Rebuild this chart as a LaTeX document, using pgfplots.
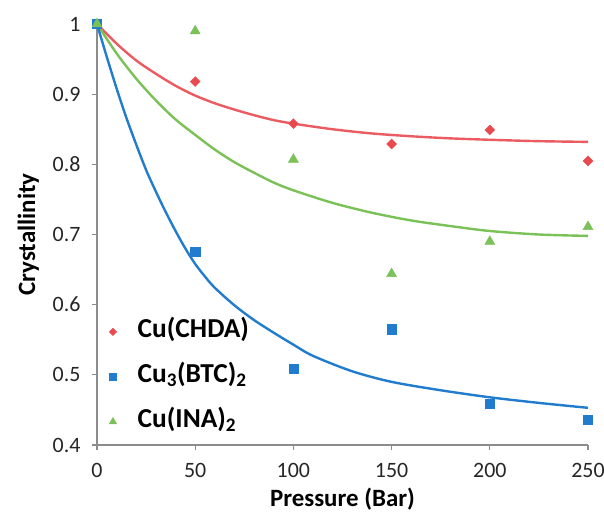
\documentclass[border=0pt]{standalone}
\usepackage{pgfplots}
\pgfplotsset{compat=1.18}
\usepackage{fontspec}
\setmainfont{Carlito}
\definecolor{cred}{RGB}{232,74,80}
\definecolor{cblue}{RGB}{34,124,206}
\definecolor{cgreen}{RGB}{122,193,88}
\definecolor{axgray}{RGB}{140,140,140}
\begin{document}
\begin{tikzpicture}
\path[use as bounding box] (-97bp,-68bp) rectangle (507bp,445bp);
\begin{axis}[
  scale only axis, width=491bp, height=421bp,
  xmin=0, xmax=250, ymin=0.4, ymax=1,
  axis x line*=bottom, axis y line*=left,
  axis line style={draw=axgray, line width=1.2bp, -},
  xtick={0,50,100,150,200,250},
  ytick={0.4,0.5,0.6,0.7,0.8,0.9,1},
  tick align=outside, major tick length=5bp,
  tick style={draw=axgray, line width=1.2bp},
  /pgf/number format/assume math mode=true,
  xticklabel={\raisebox{-10bp}[\height][0pt]{\pgfmathprintnumber{\tick}}},
  yticklabel={\pgfmathprintnumber{\tick}\hspace*{8bp}},
  tick label style={font=\fontsize{22}{25}\selectfont, text=black!85},
  xlabel={Pressure (Bar)}, ylabel={Crystallinity},
  label style={font=\bfseries\fontsize{25}{29}\selectfont},
  xlabel style={at={(axis description cs:0.5,-0.128)}, anchor=center},
  ylabel style={at={(axis description cs:-0.14,0.5)}, anchor=center},
  legend style={draw=none, fill=none, at={(rel axis cs:0,0)}, anchor=south west,
    xshift=9bp, yshift=8bp,
    font=\bfseries\fontsize{27.5}{31}\selectfont, row sep=19bp, column sep=21bp,
    nodes={inner sep=0pt, text height=19bp, text depth=7bp}},
  legend cell align=left,
  legend image code/.code={\draw[mark repeat=2,mark phase=2,#1] plot coordinates {(0bp,0bp) (8bp,0bp) (16bp,0bp)};},
  legend image post style={/tikz/every mark/.append style={scale=0.75}},
]
% data points
\addplot[only marks, mark=square*, mark size=3.5bp, color=cred, mark options={rotate=45}]
  coordinates {(0,1) (50,0.918) (100,0.858) (150,0.829) (200,0.849) (250,0.805)};
\addlegendentry{Cu(CHDA)}
\addplot[only marks, mark=square*, mark size=4.6bp, color=cblue]
  coordinates {(0,1) (50,0.676) (100,0.509) (150,0.565) (200,0.459) (250,0.436)};
\addlegendentry{Cu\textsubscript{3}(BTC)\textsubscript{2}}
\addplot[only marks, mark=triangle*, mark size=5.8bp, color=cgreen]
  coordinates {(0,1) (50,0.990) (100,0.807) (150,0.644) (200,0.690) (250,0.711)};
\addlegendentry{Cu(INA)\textsubscript{2}}
% trend curves
\addplot[forget plot, no marks, smooth, line width=2.4bp, color=cred!90!white]
  coordinates {(0,1.000) (10,0.972) (20,0.948) (30,0.929) (40,0.912) (50,0.898)
   (60,0.887) (70,0.878) (80,0.870) (90,0.863) (100,0.858) (120,0.850) (140,0.844)
   (160,0.840) (180,0.837) (200,0.835) (225,0.833) (250,0.832)};
\addplot[forget plot, no marks, smooth, line width=2.4bp, color=cgreen]
  coordinates {(0,1.000) (10,0.958) (20,0.922) (30,0.891) (40,0.864) (50,0.842)
   (60,0.821) (70,0.803) (80,0.788) (90,0.774) (100,0.763) (120,0.745) (140,0.731)
   (160,0.720) (180,0.712) (200,0.705) (225,0.700) (250,0.698)};
\addplot[forget plot, no marks, smooth, line width=2.4bp, color=cblue]
  coordinates {(0,1.000) (5,0.953) (10,0.908) (15,0.866) (20,0.828) (25,0.792)
   (30,0.761) (35,0.732) (40,0.705) (45,0.680) (50,0.658) (55,0.640) (60,0.624)
   (70,0.599) (80,0.578) (90,0.560) (100,0.543) (110,0.527) (130,0.505) (150,0.490)
   (175,0.478) (200,0.468) (225,0.460) (250,0.453)};
\end{axis}
\end{tikzpicture}
\end{document}
